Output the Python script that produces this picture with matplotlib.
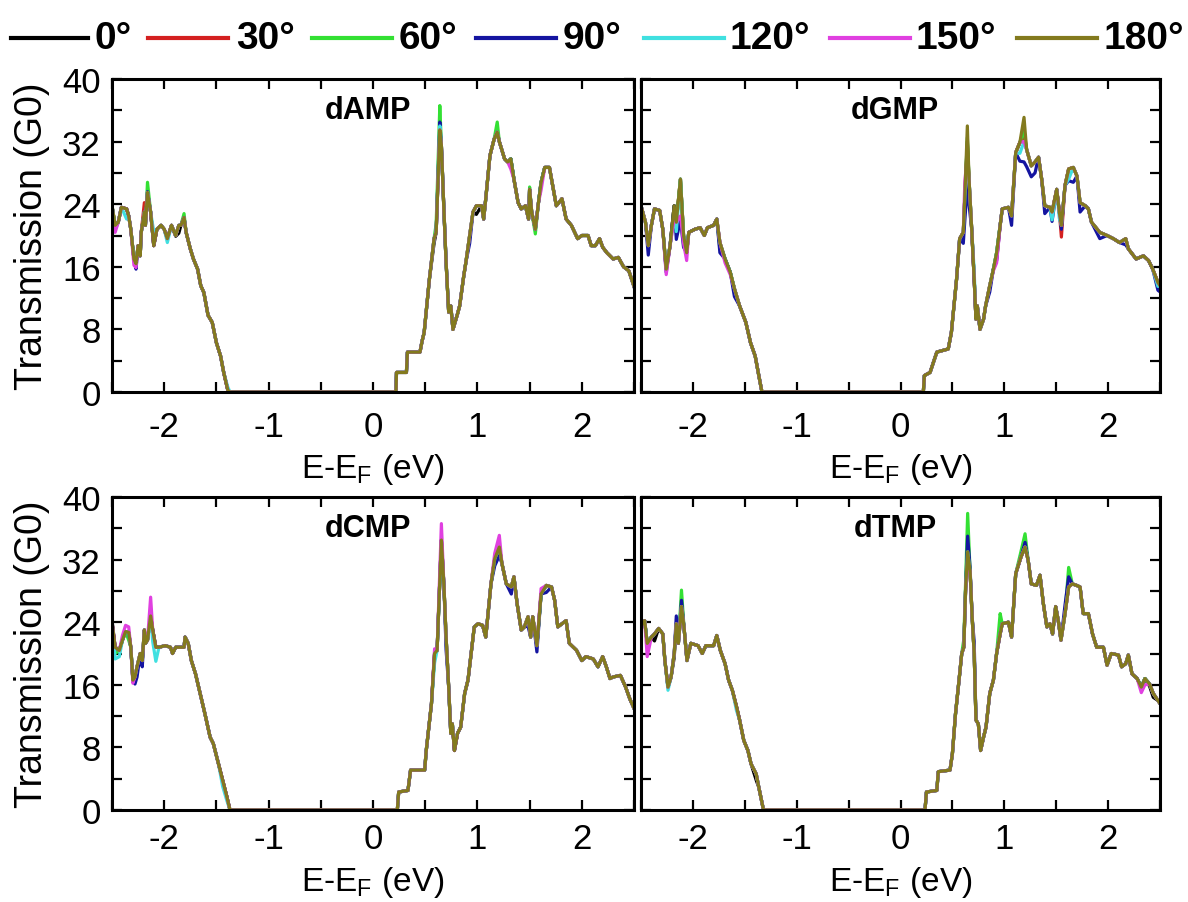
import matplotlib
matplotlib.use('Agg')
import matplotlib.pyplot as plt
from matplotlib.lines import Line2D
from matplotlib.ticker import MultipleLocator

plt.rcParams['font.family'] = ['Liberation Sans', 'DejaVu Sans']
plt.rcParams['axes.unicode_minus'] = False

angles = ['0°', '30°', '60°', '90°', '120°', '150°', '180°']
colors = ['#000000', '#d42020', '#33e033', '#1414a0', '#40e0e0', '#e040e0', '#837a1e']

# ---------------- dAMP ----------------
x_dAMP = [-2.5, -2.47, -2.44, -2.41, -2.36, -2.34, -2.32, -2.29, -2.27, -2.25,
          -2.23, -2.22, -2.19, -2.18, -2.16, -2.13, -2.10, -2.07, -2.03, -2.0,
          -1.97, -1.93, -1.89, -1.86, -1.84, -1.81, -1.79, -1.75, -1.72, -1.68,
          -1.65, -1.62, -1.58, -1.54, -1.50, -1.46, -1.43, -1.39, -1.37, 0.22,
          0.225, 0.32, 0.33, 0.45, 0.47, 0.49, 0.54, 0.585, 0.605, 0.64,
          0.655, 0.68, 0.70, 0.725, 0.745, 0.766, 0.81, 0.83, 0.87, 0.89,
          0.926, 0.958, 0.99, 1.04, 1.06, 1.08, 1.12, 1.135, 1.16, 1.19,
          1.21, 1.26, 1.29, 1.32, 1.35, 1.39, 1.42, 1.46, 1.49, 1.50,
          1.52, 1.555, 1.585, 1.61, 1.645, 1.69, 1.71, 1.756, 1.81, 1.85,
          1.90, 1.96, 2.0, 2.06, 2.09, 2.13, 2.17, 2.20, 2.24, 2.30,
          2.35, 2.40, 2.45, 2.5]
t_dAMP = [23.8, 21.3, 21.7, 23.6, 23.4, 22.5, 20.8, 17.0, 16.4, 18.7,
          17.4, 20.4, 23.0, 21.3, 25.5, 23.0, 18.7, 20.8, 21.3, 20.8,
          19.6, 21.3, 20.0, 21.3, 21.3, 22.3, 20.4, 18.3, 17.0, 15.7,
          13.6, 12.7, 9.8, 8.9, 6.3, 4.6, 2.5, 0.2, 0.0, 0.0,
          2.5, 2.5, 5.1, 5.1, 6.5, 7.6, 14.4, 19.6, 20.4, 33.5,
          31.5, 23.0, 16.6, 10.2, 11.0, 8.0, 10.0, 11.0, 14.9, 16.6,
          20.0, 23.0, 23.8, 23.8, 22.1, 24.7, 30.2, 31.0, 32.3, 33.2,
          32.0, 29.8, 29.4, 29.8, 27.2, 24.2, 23.4, 23.8, 22.1, 25.9,
          23.0, 20.8, 24.2, 26.8, 28.7, 28.7, 27.2, 23.8, 24.7, 22.1,
          21.3, 19.6, 20.0, 20.0, 18.7, 18.7, 19.6, 18.5, 17.8, 17.0,
          17.2, 16.0, 15.5, 13.5]
dev_dAMP = {
    '0°': {-1.89: 19.9, -1.86: 20.3, 0.585: 19.0, 0.99: 22.7},
    '30°': {-2.19: 24.2, -2.16: 25.0},
    '60°': {-2.16: 26.8, 0.64: 36.6, 1.19: 34.5, 1.555: 20.2, 1.50: 26.2, 0.605: 21.5, -1.81: 22.8},
    '90°': {-2.27: 15.7, -2.47: 20.8, -2.16: 25.6, 0.64: 34.5, 0.926: 19.0},
    '120°': {-2.36: 22.1, -2.10: 20.5, -1.97: 19.1, -2.47: 21.0, 0.64: 34.0, -1.39: 0.6},
    '150°': {-2.27: 15.9, -2.47: 20.4, -2.29: 16.2, 1.32: 28.5, 1.61: 25.8},
}

# ---------------- dGMP ----------------
x_dGMP = [-2.5, -2.457, -2.43, -2.40, -2.37, -2.32, -2.29, -2.257, -2.22, -2.18,
          -2.16, -2.12, -2.09, -2.06, -2.04, -1.98, -1.93, -1.89, -1.86, -1.80,
          -1.77, -1.74, -1.69, -1.64, -1.60, -1.55, -1.49, -1.445, -1.40, -1.365,
          -1.335, 0.22, 0.23, 0.285, 0.35, 0.46, 0.49, 0.54, 0.57, 0.605,
          0.62, 0.644, 0.66, 0.686, 0.71, 0.727, 0.74, 0.766, 0.80, 0.82,
          0.86, 0.895, 0.926, 0.96, 0.98, 1.04, 1.07, 1.11, 1.15, 1.19,
          1.215, 1.26, 1.296, 1.33, 1.36, 1.39, 1.44, 1.46, 1.505, 1.53,
          1.55, 1.585, 1.62, 1.665, 1.70, 1.73, 1.78, 1.81, 1.84, 1.92,
          1.99, 2.05, 2.11, 2.17, 2.195, 2.27, 2.34, 2.39, 2.43, 2.48,
          2.5]
t_dGMP = [23.8, 21.7, 18.7, 21.3, 23.4, 23.2, 20.8, 15.7, 18.7, 23.8,
          21.7, 27.2, 20.0, 17.8, 20.4, 20.8, 21.0, 20.0, 21.0, 21.3,
          22.1, 19.1, 17.0, 15.3, 13.2, 11.0, 8.9, 6.3, 4.6, 2.1,
          0.0, 0.0, 2.1, 2.5, 5.1, 5.5, 7.6, 14.4, 19.6, 20.4,
          25.0, 34.0, 27.2, 20.8, 14.4, 9.3, 11.0, 8.0, 9.3, 11.0,
          13.6, 15.7, 17.8, 21.3, 23.4, 23.6, 22.5, 30.6, 31.9, 35.1,
          31.0, 28.9, 29.4, 30.0, 27.2, 23.8, 23.6, 23.0, 25.9, 23.0,
          21.3, 26.4, 28.5, 28.7, 27.6, 24.2, 23.8, 23.4, 21.7, 20.4,
          20.0, 19.6, 19.1, 19.6, 18.3, 17.0, 17.4, 16.8, 15.7, 14.0,
          13.6]
dev_dGMP = {
    '0°': {1.19: 33.0, 0.644: 32.0},
    '30°': {0.644: 31.5, 0.66: 27.0, 1.55: 19.8, 0.926: 17.0, 1.19: 32.5},
    '60°': {1.19: 33.5, 0.644: 32.5, -1.74: 18.3},
    '90°': {-2.43: 17.5, -2.257: 15.3, -2.16: 19.5, -2.12: 22.0, -2.09: 18.5,
            -1.74: 17.8, -1.60: 12.2, 0.62: 22.0, 0.644: 26.5, 0.66: 24.0,
            0.605: 19.0, 0.926: 16.8, 0.86: 12.8, 1.07: 21.3, 1.15: 29.5,
            1.19: 29.4, 1.215: 28.8, 1.26: 27.5, 1.296: 28.0, 1.39: 22.8,
            1.46: 21.8, 1.55: 20.8, 1.62: 27.0, 1.665: 26.8, 1.73: 23.0,
            1.92: 19.6, 2.17: 18.8, 2.48: 13.0, 2.5: 12.8},
    '120°': {0.644: 29.4, 1.19: 32.0, 1.15: 30.5, 1.46: 22.0, 1.53: 22.2,
             0.71: 15.5, 1.62: 27.2, -2.16: 20.5, -2.18: 22.5, 2.48: 13.5},
    '150°': {0.62: 27.0, 0.644: 30.2, 0.895: 15.5, 0.926: 16.5, -2.257: 15.0,
             -2.12: 22.5, -2.09: 19.0, -2.06: 16.8, -2.18: 22.2, -1.69: 16.5,
             -1.64: 15.0, 1.19: 32.0},
}

# ---------------- dCMP ----------------
x_dCMP = [-2.5, -2.47, -2.43, -2.40, -2.37, -2.34, -2.32, -2.30, -2.28, -2.26,
          -2.23, -2.21, -2.19, -2.18, -2.16, -2.13, -2.11, -2.08, -2.05, -1.99,
          -1.94, -1.92, -1.89, -1.81, -1.80, -1.77, -1.74, -1.70, -1.67, -1.64,
          -1.61, -1.56, -1.53, -1.48, -1.44, -1.40, -1.37, 0.233, 0.246, 0.335,
          0.36, 0.495, 0.51, 0.56, 0.59, 0.614, 0.655, 0.68, 0.70, 0.725,
          0.745, 0.76, 0.78, 0.81, 0.84, 0.878, 0.91, 0.94, 0.97, 1.006,
          1.05, 1.08, 1.13, 1.166, 1.21, 1.235, 1.277, 1.325, 1.35, 1.38,
          1.42, 1.45, 1.485, 1.51, 1.53, 1.57, 1.61, 1.66, 1.71, 1.74,
          1.77, 1.81, 1.85, 1.88, 1.95, 2.0, 2.04, 2.11, 2.155, 2.2,
          2.235, 2.27, 2.30, 2.37, 2.42, 2.46, 2.5]
t_dCMP = [24.0, 20.8, 20.4, 21.7, 22.8, 22.7, 20.8, 16.6, 17.0, 18.3,
          20.0, 19.1, 23.0, 21.3, 21.7, 24.8, 23.0, 20.8, 20.8, 21.0,
          20.8, 20.0, 20.8, 20.8, 22.1, 21.3, 19.1, 17.4, 15.7, 14.0,
          12.3, 9.3, 8.5, 5.9, 3.8, 1.7, 0.0, 0.0, 2.3, 2.5,
          5.1, 5.1, 7.6, 13.6, 20.0, 20.4, 34.5, 28.5, 22.1, 15.7,
          9.8, 11.0, 7.6, 9.8, 10.6, 14.9, 16.6, 20.0, 23.4, 23.8,
          23.6, 22.1, 28.9, 32.1, 33.6, 31.5, 28.9, 28.5, 29.8, 26.4,
          23.0, 23.4, 24.7, 22.1, 24.7, 21.0, 27.6, 28.7, 28.5, 26.8,
          23.4, 23.8, 24.2, 21.3, 20.4, 19.1, 19.6, 19.3, 18.3, 19.6,
          18.3, 16.8, 17.0, 17.2, 15.7, 14.2, 13.0]
dev_dCMP = {
    '0°': {-2.5: 24.3},
    '60°': {-2.47: 20.0, -2.34: 21.7},
    '90°': {1.57: 20.2, -2.28: 16.1, -2.26: 17.0, -2.21: 18.3, 1.325: 27.6,
            1.21: 32.5, 1.166: 31.2, 0.70: 20.5, 1.485: 23.5, 1.66: 27.8},
    '120°': {-2.47: 19.3, -2.43: 19.6, -2.11: 21.5, -2.08: 19.0, 0.59: 18.8,
             0.78: 8.4, -1.40: 1.2, -1.44: 3.0},
    '150°': {0.655: 36.6, 1.21: 35.1, -2.13: 27.2, -2.37: 23.6, -2.34: 23.4,
             -2.40: 22.3, 0.59: 20.6, 1.166: 32.8, 1.61: 28.3, -2.30: 16.2},
}

# ---------------- dTMP ----------------
x_dTMP = [-2.5, -2.465, -2.44, -2.40, -2.37, -2.33, -2.29, -2.27, -2.24, -2.21,
          -2.18, -2.16, -2.14, -2.11, -2.086, -2.057, -2.02, -1.95, -1.91, -1.875,
          -1.80, -1.77, -1.736, -1.69, -1.656, -1.62, -1.58, -1.55, -1.51, -1.47,
          -1.44, -1.39, -1.365, -1.32, 0.236, 0.25, 0.35, 0.364, 0.477, 0.50,
          0.53, 0.564, 0.59, 0.61, 0.628, 0.647, 0.67, 0.69, 0.71, 0.727,
          0.75, 0.772, 0.80, 0.824, 0.86, 0.895, 0.926, 0.96, 0.98, 1.04,
          1.07, 1.11, 1.16, 1.20, 1.23, 1.26, 1.31, 1.344, 1.376, 1.41,
          1.44, 1.465, 1.495, 1.52, 1.546, 1.585, 1.62, 1.655, 1.697, 1.73,
          1.76, 1.81, 1.85, 1.89, 1.955, 1.99, 2.03, 2.10, 2.13, 2.17,
          2.195, 2.23, 2.28, 2.32, 2.355, 2.40, 2.435, 2.48, 2.5]
t_dTMP = [23.5, 24.2, 21.3, 22.1, 22.5, 23.2, 22.5, 19.1, 15.7, 17.0,
          20.0, 23.8, 21.3, 26.0, 23.4, 19.1, 21.3, 21.0, 20.0, 21.0,
          21.0, 22.3, 20.4, 18.7, 16.6, 15.3, 13.2, 11.5, 8.9, 7.6,
          5.9, 4.6, 2.9, 0.0, 0.0, 2.3, 2.5, 4.9, 5.1, 7.2,
          12.3, 16.6, 20.0, 20.8, 28.5, 33.0, 30.6, 24.7, 20.0, 11.5,
          11.0, 7.6, 9.3, 10.6, 14.9, 16.6, 20.0, 22.5, 23.8, 24.0,
          22.1, 30.2, 32.3, 33.6, 31.9, 28.9, 28.7, 30.0, 26.4, 23.4,
          23.8, 22.5, 26.0, 24.2, 21.7, 25.1, 28.5, 28.9, 28.7, 28.5,
          25.1, 25.1, 22.5, 20.8, 20.8, 18.5, 20.0, 19.8, 18.3, 18.7,
          19.8, 17.4, 16.8, 15.7, 16.8, 16.1, 14.9, 14.0, 13.6]
dev_dTMP = {
    '0°': {-2.37: 21.6, -2.18: 19.5, 2.40: 15.8, 2.435: 14.4, -1.39: 3.8},
    '60°': {0.647: 37.9, 1.20: 35.3, 1.62: 31.0, 0.96: 25.1, -2.11: 28.1,
            0.628: 29.5, 1.16: 33.0, 0.61: 21.8},
    '90°': {0.647: 35.0, 1.20: 34.2, 1.62: 29.8, -2.11: 26.8, -2.16: 24.8,
            0.67: 31.0, 1.585: 26.2, 0.71: 21.5},
    '120°': {-2.24: 15.3, -1.58: 12.7},
    '150°': {-2.44: 19.6, 2.32: 15.0, 2.355: 16.0, 0.647: 31.5},
}


def series_values(x, base, dev):
    vals = list(base)
    for xv, yv in dev.items():
        vals[x.index(xv)] = yv
    return vals


fig = plt.figure(figsize=(11.88, 9.03), dpi=100)

W, H = 1188.0, 903.0
positions = {
    'dAMP': [112 / W, (H - 393) / H, 522 / W, 313 / H],
    'dGMP': [641 / W, (H - 393) / H, 519 / W, 313 / H],
    'dCMP': [112 / W, (H - 811) / H, 522 / W, 313 / H],
    'dTMP': [641 / W, (H - 811) / H, 519 / W, 313 / H],
}
# (name, x, base, deviations, show y labels, x-label offset, tick pad)
panels = [
    ('dAMP', x_dAMP, t_dAMP, dev_dAMP, True, -0.246, 13),
    ('dGMP', x_dGMP, t_dGMP, dev_dGMP, False, -0.246, 13),
    ('dCMP', x_dCMP, t_dCMP, dev_dCMP, True, -0.227, 9),
    ('dTMP', x_dTMP, t_dTMP, dev_dTMP, False, -0.227, 9),
]

for name, x, base, dev, left, xlab_y, xpad in panels:
    ax = fig.add_axes(positions[name])
    for i, ang in enumerate(angles):
        y = series_values(x, base, dev.get(ang, {}))
        ax.plot(x, y, color=colors[i], lw=2.3, solid_joinstyle='round')
    ax.set_xlim(-2.5, 2.5)
    ax.set_ylim(0, 40)
    ax.xaxis.set_major_locator(MultipleLocator(1))
    ax.xaxis.set_minor_locator(MultipleLocator(0.5))
    ax.yaxis.set_major_locator(MultipleLocator(8))
    ax.yaxis.set_minor_locator(MultipleLocator(4))
    ax.tick_params(which='both', direction='in', top=True, right=True,
                   length=7, width=1.6, labelsize=25)
    ax.tick_params(axis='x', which='both', pad=xpad)
    ax.tick_params(axis='y', which='both', pad=8, labelleft=left)
    for sp in ax.spines.values():
        sp.set_linewidth(2.2)
    ax.set_xlabel(r'E-E$_\mathregular{F}$ (eV)', fontsize=24, va='center')
    ax.xaxis.set_label_coords(0.5, xlab_y)
    if left:
        ax.set_ylabel('Transmission (G0)', fontsize=27)
        ax.yaxis.set_label_coords(-0.118, 0.5)
    ax.text(0.49, 0.9, name, transform=ax.transAxes, ha='center', va='center',
            fontsize=22, fontweight='bold')

# legend row at the top
line_px = [(11, 88), (148, 228), (312, 392), (476, 556), (644, 724), (830, 910), (1017, 1097)]
text_px = [94, 236, 399, 563, 730, 916, 1103]
for i, ang in enumerate(angles):
    x0, x1 = line_px[i]
    fig.add_artist(Line2D([x0 / W, x1 / W], [(H - 39) / H, (H - 39) / H],
                          transform=fig.transFigure, color=colors[i], lw=3))
    fig.text(text_px[i] / W, (H - 49) / H, ang, ha='left', va='baseline',
             fontsize=28, fontweight='bold')

fig.savefig('out.png', dpi=100)
